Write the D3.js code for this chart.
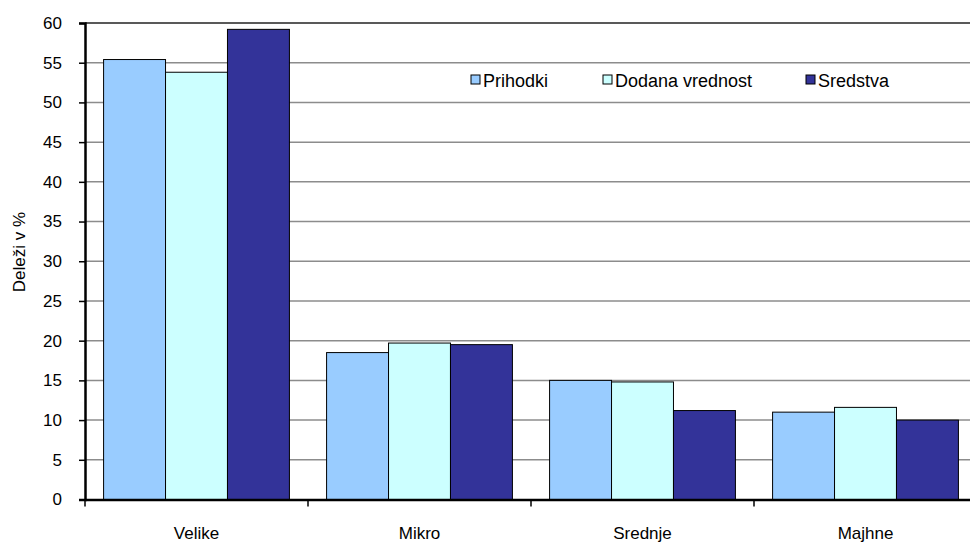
<!DOCTYPE html>
<html>
  <head>
    <meta charset="utf-8" />
    <script src="https://cdn.jsdelivr.net/npm/d3@7"></script>
    <style>
    body { margin: 0; background: #fff; }
    #master { width: 970px; height: 543px; overflow: hidden; }
    text { font-family: "Liberation Sans", Arial, sans-serif; fill: #000; }
    .grid line { stroke: #8c8c8c; stroke-width: 1.5; }
    .bar { stroke: #000; stroke-width: 1; }
    </style>
  </head>
  <body>
    <div id="master"></div>

    <script type="text/javascript">
var categories = ["Velike", "Mikro", "Srednje", "Majhne"];
var seriesNames = ["Prihodki", "Dodana vrednost", "Sredstva"];
var prihodki = [55.4, 18.5, 15.0, 11.0];
var dodana = [53.8, 19.7, 14.8, 11.6];
var sredstva = [59.2, 19.5, 11.2, 10.0];
var yTicks = [0, 5, 10, 15, 20, 25, 30, 35, 40, 45, 50, 55, 60];
var colors = ["#99ccff", "#ccffff", "#333399"];
var seriesValues = [prihodki, dodana, sredstva];

var width = 970, height = 543;
var plotLeft = 85, plotRight = 977, plotTop = 23, plotBottom = 499.5;

var svg = d3.select("#master").append("svg")
  .attr("width", width)
  .attr("height", height);

var x = d3.scaleBand()
  .domain(categories)
  .range([plotLeft, plotRight])
  .paddingInner(0)
  .paddingOuter(0);

var xInner = d3.scaleBand()
  .domain(seriesNames)
  .range([0, x.bandwidth()])
  .paddingOuter(0.3)
  .paddingInner(0);

var y = d3.scaleLinear()
  .domain([0, 60])
  .range([plotBottom, plotTop]);

// gridlines
svg.append("g")
  .attr("class", "grid")
  .selectAll("line")
  .data(yTicks.filter(function(d) { return d > 0 && d < 60; }))
  .enter()
  .append("line")
    .attr("x1", plotLeft)
    .attr("x2", plotRight)
    .attr("y1", function(d) { return y(d); })
    .attr("y2", function(d) { return y(d); });

// top border line
svg.append("line")
  .attr("x1", plotLeft).attr("x2", plotRight)
  .attr("y1", y(60)).attr("y2", y(60))
  .attr("stroke", "#222").attr("stroke-width", 1.5);

// bars
var groups = svg.selectAll(".cat")
  .data(categories)
  .enter()
  .append("g")
    .attr("class", "cat")
    .attr("transform", function(d) { return "translate(" + x(d) + ",0)"; });

groups.selectAll("rect")
  .data(function(d, i) {
    return seriesNames.map(function(s, j) {
      return { name: s, value: seriesValues[j][i], color: colors[j] };
    });
  })
  .enter()
  .append("rect")
    .attr("class", "bar")
    .attr("x", function(d) { return xInner(d.name); })
    .attr("width", xInner.bandwidth())
    .attr("y", function(d) { return y(d.value); })
    .attr("height", function(d) { return plotBottom - y(d.value); })
    .attr("fill", function(d) { return d.color; });

// y axis
var yAxis = svg.append("g")
  .attr("transform", "translate(" + plotLeft + ",0)")
  .call(d3.axisLeft(y).tickValues(yTicks).tickSize(6).tickPadding(17));
yAxis.select(".domain").attr("stroke", "#000").attr("stroke-width", 2.5);
yAxis.selectAll(".tick line").attr("stroke", "#000").attr("stroke-width", 1.5);
yAxis.selectAll("text")
  .style("font-size", "17px")
  .style("font-family", "'Liberation Sans', Arial, sans-serif");

// x axis
var xAxis = svg.append("g")
  .attr("transform", "translate(0," + plotBottom + ")")
  .call(d3.axisBottom(x).tickSize(0).tickPadding(27));
xAxis.select(".domain").attr("stroke", "#000").attr("stroke-width", 2.5);
xAxis.selectAll("text")
  .style("font-size", "17px")
  .style("font-family", "'Liberation Sans', Arial, sans-serif");

// x tick marks at band edges
svg.append("g")
  .selectAll("line")
  .data(categories)
  .enter()
  .append("line")
    .attr("x1", function(d) { return x(d); })
    .attr("x2", function(d) { return x(d); })
    .attr("y1", plotBottom)
    .attr("y2", plotBottom + 7)
    .attr("stroke", "#000")
    .attr("stroke-width", 1.5);

// y axis title
svg.append("text")
  .attr("transform", "translate(25,252) rotate(-90)")
  .attr("text-anchor", "middle")
  .style("font-size", "17px")
  .text("Deleži v %");

// legend
var legendX = [471, 603, 806];
var legend = svg.selectAll(".legend")
  .data(seriesNames)
  .enter()
  .append("g")
    .attr("class", "legend")
    .attr("transform", function(d, i) { return "translate(" + legendX[i] + ",80)"; });

legend.append("rect")
  .attr("x", 0).attr("y", -5)
  .attr("width", 9).attr("height", 9)
  .attr("fill", function(d, i) { return colors[i]; })
  .attr("stroke", "#000").attr("stroke-width", 1);

legend.append("text")
  .attr("x", 12)
  .attr("y", 6.5)
  .style("font-size", "18px")
  .text(function(d) { return d; });
    </script>
  </body>
</html>
